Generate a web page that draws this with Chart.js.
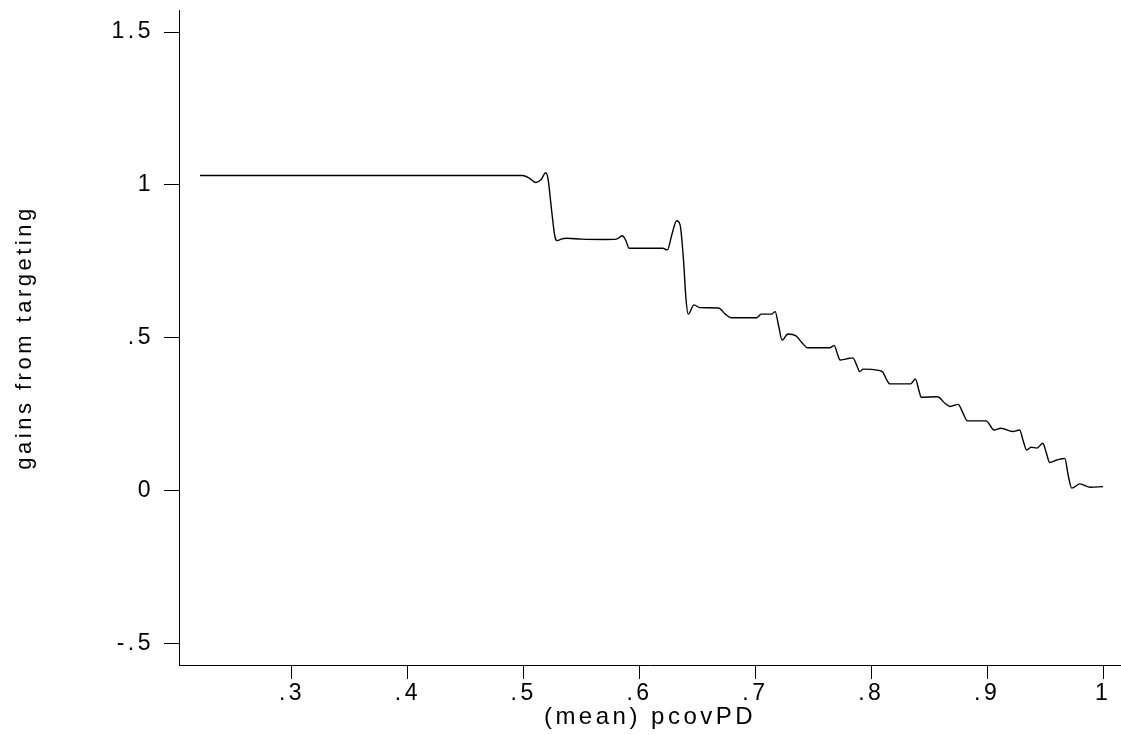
<!DOCTYPE html>
<html>
<head>
<meta charset="utf-8">
<script src="https://cdn.jsdelivr.net/npm/chart.js@4"></script>
<style>
  html, body { margin: 0; padding: 0; background: #fff; }
  #wrap { width: 1121px; height: 735px; }
</style>
</head>
<body>
<div id="wrap"><canvas id="gainsChart"></canvas></div>
<script>
// values
const pcovPD = [0.2206, 0.40, 0.499, 0.505, 0.5105, 0.515, 0.519, 0.521, 0.524, 0.527, 0.529, 0.533,
    0.537, 0.55, 0.57, 0.580, 0.585, 0.588, 0.591, 0.60, 0.62, 0.624, 0.628, 0.632, 0.635, 0.638,
    0.640, 0.642, 0.647, 0.652, 0.668, 0.674, 0.679, 0.701, 0.705, 0.714, 0.717, 0.720, 0.723,
    0.728, 0.735, 0.740, 0.745, 0.764, 0.768, 0.771, 0.773, 0.778, 0.784, 0.788, 0.790, 0.793,
    0.806, 0.810, 0.813, 0.816, 0.834, 0.838, 0.841, 0.843, 0.857, 0.864, 0.868, 0.875, 0.879,
    0.883, 0.899, 0.906, 0.912, 0.922, 0.928, 0.931, 0.934, 0.938, 0.943, 0.948, 0.951, 0.954,
    0.960, 0.967, 0.970, 0.973, 0.980, 0.989, 1.0];
const gains = [1.031, 1.031, 1.031, 1.022, 1.008, 1.018, 1.040, 1.02, 0.92, 0.83, 0.818, 0.824,
    0.826, 0.823, 0.822, 0.823, 0.834, 0.820, 0.793, 0.793, 0.793, 0.788, 0.840, 0.883, 0.869, 0.75,
    0.63, 0.578, 0.608, 0.599, 0.598, 0.578, 0.566, 0.566, 0.578, 0.578, 0.586, 0.54, 0.493,
    0.513, 0.507, 0.485, 0.468, 0.468, 0.475, 0.445, 0.428, 0.431, 0.435, 0.405, 0.390, 0.398,
    0.394, 0.388, 0.365, 0.350, 0.350, 0.366, 0.330, 0.306, 0.308, 0.285, 0.276, 0.283, 0.255,
    0.229, 0.229, 0.199, 0.205, 0.194, 0.199, 0.165, 0.134, 0.143, 0.140, 0.156, 0.125, 0.093,
    0.101, 0.106, 0.05, 0.009, 0.023, 0.012, 0.014];

const xTicks = [0.3, 0.4, 0.5, 0.6, 0.7, 0.8, 0.9, 1];
const xTickLabels = ['.3', '.4', '.5', '.6', '.7', '.8', '.9', '1'];
const yTicks = [-0.5, 0, 0.5, 1, 1.5];
const yTickLabels = ['-.5', '0', '.5', '1', '1.5'];

const FONT = '"Liberation Sans", Arial, sans-serif';

// Stata-ish spaced lettering
const spacing = {
    id: 'spacing',
    beforeLayout(chart) { chart.ctx.letterSpacing = '3.5px'; },
    beforeDraw(chart) { chart.ctx.letterSpacing = '3.5px'; }
};

function pickTicks(list) {
    return function (scale) {
        scale.ticks = list.map(v => ({ value: v }));
    };
}

function labelFor(values, labels) {
    return function (value) {
        const i = values.findIndex(v => Math.abs(v - value) < 1e-9);
        return i >= 0 ? labels[i] : '';
    };
}

const points = pcovPD.map((x, i) => ({ x: x, y: gains[i] }));

new Chart(document.getElementById('gainsChart').getContext('2d'), {
    type: 'line',
    data: {
        datasets: [{
            data: points,
            borderColor: '#000',
            borderWidth: 1.4,
            pointRadius: 0,
            fill: false,
            cubicInterpolationMode: 'monotone'
        }]
    },
    options: {
        responsive: true,
        maintainAspectRatio: false,
        animation: false,
        layout: { padding: { top: 10, right: 0, left: 0, bottom: 0 } },
        plugins: {
            legend: { display: false },
            tooltip: { enabled: false }
        },
        scales: {
            x: {
                type: 'linear',
                min: 0.2025,
                max: 1.0155,
                afterBuildTicks: pickTicks(xTicks),
                afterFit(scale) { scale.height = 70; scale.paddingRight = 0; },
                grid: { drawOnChartArea: false, tickLength: 14, color: '#000', lineWidth: 1 },
                border: { display: true, color: '#000', width: 1 },
                ticks: {
                    callback: labelFor(xTicks, xTickLabels),
                    color: '#000',
                    font: { family: FONT, size: 23 },
                    padding: 1,
                    maxRotation: 0,
                    autoSkip: false
                },
                title: {
                    display: true,
                    text: '(mean) pcovPD',
                    color: '#000',
                    font: { family: FONT, size: 24 },
                    padding: { top: 0, bottom: 3 }
                }
            },
            y: {
                type: 'linear',
                min: -0.569,
                max: 1.572,
                afterBuildTicks: pickTicks(yTicks),
                afterFit(scale) {
                    scale.width = 179;
                    scale.paddingTop = 0;
                    scale.paddingBottom = 0;
                },
                grid: { drawOnChartArea: false, tickLength: 15, color: '#000', lineWidth: 1 },
                border: { display: true, color: '#000', width: 1 },
                ticks: {
                    callback: labelFor(yTicks, yTickLabels),
                    color: '#000',
                    font: { family: FONT, size: 23 },
                    padding: 10,
                    autoSkip: false
                },
                title: {
                    display: true,
                    text: 'gains from targeting',
                    color: '#000',
                    font: { family: FONT, size: 22 },
                    padding: { top: 12, bottom: 0 }
                }
            }
        }
    },
    plugins: [spacing]
});
</script>
</body>
</html>
